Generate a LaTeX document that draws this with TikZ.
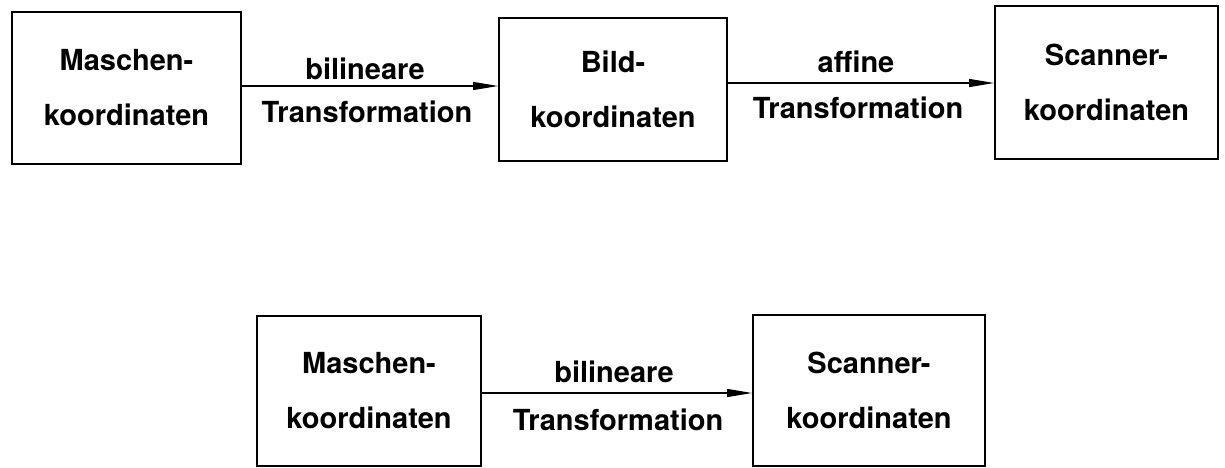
\documentclass[tikz,border=0pt]{standalone}
\usepackage{fontspec}
\setmainfont{TeX Gyre Heros}
\usetikzlibrary{arrows.meta}
\tikzset{
  box/.style={draw=black, line width=1.8pt, inner sep=0pt, align=center,
    font=\fontsize{29}{55}\selectfont\bfseries},
  lbl/.style={inner sep=0pt, anchor=base, font=\fontsize{29}{55}\selectfont\bfseries},
  arr/.style={line width=1.3pt, -{Triangle[length=25pt,width=8pt]}}
}
\begin{document}
\begin{tikzpicture}[x=1pt, y=1pt]
\useasboundingbox (0,0) rectangle (1225,-468);
% upper row
\node [box, minimum width=229, minimum height=152] (masch) at (126.5,-88) {Maschen-\\koordinaten};
\node [box, minimum width=228, minimum height=143] (bild) at (613,-89.5) {Bild-\\koordinaten};
\node [box, minimum width=223, minimum height=153] (scan) at (1106.5,-82.5) {Scanner-\\koordinaten};
\coordinate (ra) at (0,-86);
\coordinate (rb) at (0,-83);
\draw [arr] (masch.east |- ra) -- (bild.west |- ra);
\draw [arr] (bild.east |- rb) -- (scan.west |- rb);
\node [lbl] (bilA) at (365,-80) {bilineare};
\node [lbl] (trA) at (367,-123) {Transformation};
\node [lbl] (aff) at (856,-73) {affine};
\node [lbl] (trB) at (858,-118) {Transformation};
% lower row
\node [box, minimum width=224, minimum height=150] (maschB) at (369,-391) {Maschen-\\koordinaten};
\node [box, minimum width=232, minimum height=151] (scanB) at (869,-390.5) {Scanner-\\koordinaten};
\coordinate (rc) at (0,-393);
\draw [arr] (maschB.east |- rc) -- (scanB.west |- rc);
\node [lbl] (bilB) at (614,-382) {bilineare};
\node [lbl] (trC) at (618,-430) {Transformation};
\end{tikzpicture}
\end{document}
